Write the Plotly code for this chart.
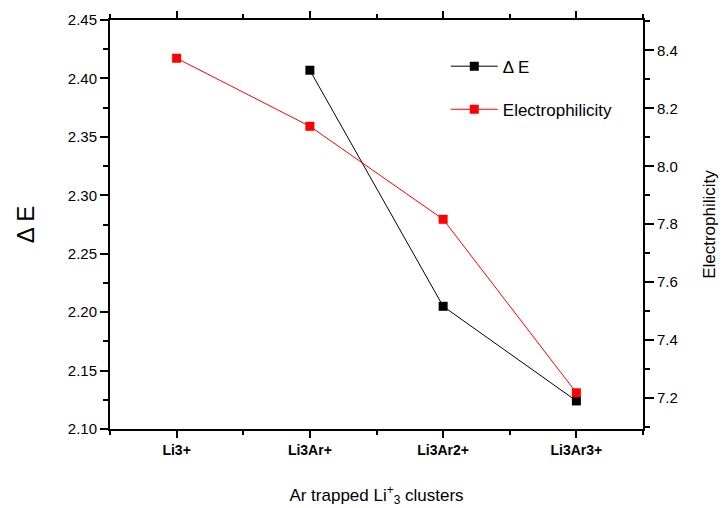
import plotly.graph_objects as go

# Cluster labels and computed properties
clusters = ["Li3+", "Li3Ar+", "Li3Ar2+", "Li3Ar3+"]
delta_e = [None, 2.407, 2.205, 2.124]
electrophilicity = [8.373, 8.138, 7.817, 7.218]

left_ticks = [2.10, 2.15, 2.20, 2.25, 2.30, 2.35, 2.40, 2.45]
right_ticks = [7.2, 7.4, 7.6, 7.8, 8.0, 8.2, 8.4]

FONT = "Liberation Sans, Arial, sans-serif"
x_pos = list(range(len(clusters)))

fig = go.Figure()
fig.add_trace(go.Scatter(
    x=x_pos, y=delta_e, name="\u0394 E", mode="lines+markers",
    line=dict(color="black", width=1),
    marker=dict(symbol="square", size=9, color="black"),
    legendgroup="a",
))
fig.add_trace(go.Scatter(
    x=x_pos, y=electrophilicity, name="Electrophilicity", mode="lines+markers",
    line=dict(color="#ff0000", width=1),
    marker=dict(symbol="square", size=9, color="#ff0000"),
    yaxis="y2", legendgroup="b",
))

axis_common = dict(
    showgrid=False, zeroline=False, showline=True, linecolor="black", linewidth=2,
    ticks="outside", tickcolor="black", tickwidth=1.5, ticklen=8,
    tickfont=dict(family=FONT, size=15, color="black"),
    automargin=False,
)

fig.update_layout(
    width=723, height=508,
    margin=dict(l=110, r=80, t=20, b=79),
    paper_bgcolor="white", plot_bgcolor="white",
    font=dict(family=FONT, color="black"),
    showlegend=True,
    legend=dict(
        x=0.63, y=0.93, xanchor="left", yanchor="top",
        bgcolor="rgba(0,0,0,0)", font=dict(family=FONT, size=17),
        tracegroupgap=18, itemwidth=47,
    ),
    xaxis=dict(
        axis_common,
        range=[-0.5, 3.5],
        tickmode="array", tickvals=x_pos, ticktext=clusters,
        tickfont=dict(family=FONT, size=14, color="black", weight="bold"),
        ticklen=7,
        minor=dict(dtick=1, tick0=-0.5, ticks="outside", ticklen=4, tickcolor="black", tickwidth=1.5),
        mirror="ticks",
        title=dict(text="Ar trapped Li<sup>+</sup><sub>3</sub> clusters",
                   font=dict(family=FONT, size=17), standoff=32),
    ),
    yaxis=dict(
        axis_common,
        range=[2.10, 2.45],
        tickmode="array", tickvals=left_ticks,
        ticktext=[f"{v:.2f}" for v in left_ticks],
        minor=dict(dtick=0.025, tick0=2.1, ticks="outside", ticklen=5, tickcolor="black", tickwidth=1.5),
        title=dict(text="\u0394 E", font=dict(family=FONT, size=24), standoff=26),
    ),
    yaxis2=dict(
        axis_common,
        overlaying="y", side="right", anchor="x",
        range=[7.093, 8.505],
        tickmode="array", tickvals=right_ticks,
        ticktext=[f"{v:.1f}" for v in right_ticks],
        minor=dict(dtick=0.1, tick0=7.1, ticks="outside", ticklen=5, tickcolor="black", tickwidth=1.5),
        ticklen=9,
        title=dict(text="Electrophilicity", font=dict(family=FONT, size=17), standoff=26),
    ),
)

fig.write_html("out.html")
